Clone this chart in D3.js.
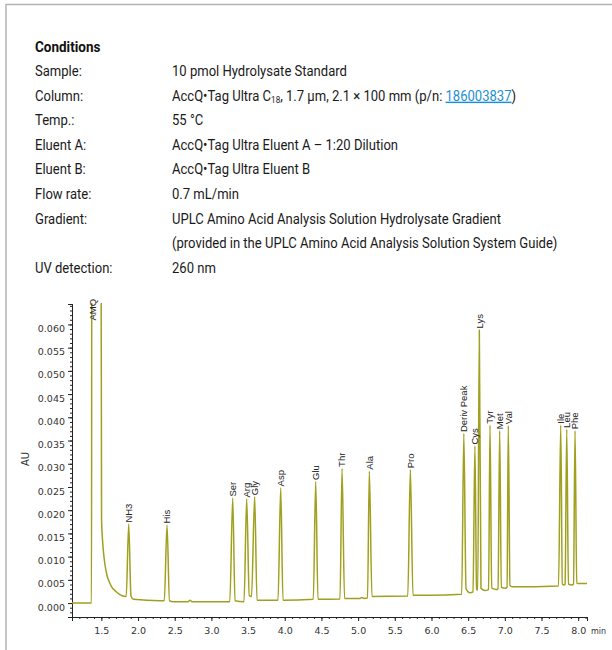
<!DOCTYPE html>
<html>
<head>
<meta charset="utf-8">
<script src="https://cdn.jsdelivr.net/npm/d3@7"></script>
<style>
  body { margin: 0; background: #fff; }
</style>
</head>
<body>
<div id="chart"></div>
<script>
// ---- data ----
// chromatogram trace: retention time (min) and absorbance (AU)
const traceTime = [1.100, 1.366, 1.370, 1.495, 1.503, 1.516, 1.529, 1.550, 1.577, 1.604, 1.645, 1.700, 1.754, 1.829,
  1.839, 1.873, 1.904, 1.938, 2.300, 2.358, 2.395, 2.429, 2.481, 2.681, 2.709, 2.736, 3.233,
  3.251, 3.291, 3.322, 3.445, 3.481, 3.516, 3.547, 3.590, 3.622, 3.908, 3.945, 3.976,
  4.389, 4.422, 4.453, 4.753, 4.781, 4.815, 5.026, 5.053, 5.080, 5.128, 5.153, 5.189,
  5.677, 5.712, 5.748, 5.980, 6.412, 6.441, 6.471, 6.525, 6.566, 6.592, 6.615, 6.631, 6.652, 6.675,
  6.730, 6.778, 6.798, 6.821, 6.887, 6.907, 6.930, 6.952, 7.009, 7.030, 7.047, 7.070, 7.098,
  7.732, 7.762, 7.784, 7.807, 7.821, 7.844, 7.867, 7.916, 7.936, 7.957, 7.980, 8.011, 8.120];
const traceAU = [0.0000, 0.0000, 0.0900, 0.0900, 0.0179, 0.0136, 0.0110, 0.0082, 0.0060, 0.0047, 0.0034, 0.0025, 0.0018, 0.0014,
  0.0014, 0.0170, 0.0015, 0.0008, 0.0005, 0.0005, 0.0168, 0.0005, 0.0003, 0.0003, 0.0006, 0.0003, 0.0003,
  0.0003, 0.0226, 0.0005, 0.0003, 0.0224, 0.0016, 0.0014, 0.0229, 0.0006, 0.0006, 0.0248, 0.0006,
  0.0008, 0.0262, 0.0008, 0.0009, 0.0290, 0.0010, 0.0010, 0.0012, 0.0010, 0.0011, 0.0284, 0.0014,
  0.0015, 0.0287, 0.0017, 0.0017, 0.0019, 0.0365, 0.0031, 0.0022, 0.0024, 0.0338, 0.0030, 0.0028, 0.0588, 0.0032,
  0.0027, 0.0029, 0.0383, 0.0032, 0.0029, 0.0031, 0.0371, 0.0034, 0.0032, 0.0034, 0.0382, 0.0038, 0.0035,
  0.0037, 0.0383, 0.0041, 0.0039, 0.0041, 0.0374, 0.0041, 0.0039, 0.0041, 0.0371, 0.0043, 0.0042, 0.0042];

// peak labels: name, time and AU where the label starts
const peakNames = ["AMQ", "NH3", "His", "Ser", "Arg", "Gly", "Asp", "Glu", "Thr", "Ala", "Pro",
  "Deriv Peak", "Cys", "Lys", "Tyr", "Met", "Val", "Ile", "Leu", "Phe"];
const peakTime = [1.380, 1.873, 2.395, 3.291, 3.481, 3.590, 3.945, 4.422, 4.781, 5.153, 5.712,
  6.441, 6.592, 6.652, 6.798, 6.930, 7.047, 7.762, 7.844, 7.957];
const peakAU = [0.0605, 0.0170, 0.0168, 0.0226, 0.0224, 0.0229, 0.0248, 0.0262, 0.0290, 0.0284, 0.0287,
  0.0365, 0.0338, 0.0588, 0.0383, 0.0371, 0.0382, 0.0383, 0.0374, 0.0371];

const xTicks = [1.5, 2.0, 2.5, 3.0, 3.5, 4.0, 4.5, 5.0, 5.5, 6.0, 6.5, 7.0, 7.5, 8.0];
const yTicks = [0, 0.005, 0.010, 0.015, 0.020, 0.025, 0.030, 0.035, 0.040, 0.045, 0.050, 0.055, 0.060];

const condLabels = ["Sample:", "Column:", "Temp.:", "Eluent A:", "Eluent B:", "Flow rate:", "Gradient:", "", "UV detection:"];
const condValues = ["10 pmol Hydrolysate Standard", null, "55 °C", "AccQ•Tag Ultra Eluent A – 1:20 Dilution",
  "AccQ•Tag Ultra Eluent B", "0.7 mL/min", "UPLC Amino Acid Analysis Solution Hydrolysate Gradient",
  "(provided in the UPLC Amino Acid Analysis Solution System Guide)", "260 nm"];

// ---- page ----
const W = 612, H = 650;
const svg = d3.select("#chart").append("svg")
  .attr("width", W).attr("height", H)
  .style("display", "block");

// frame
svg.append("path")
  .attr("d", `M6,${H} V4.5 H${W}`)
  .attr("fill", "none").attr("stroke", "#b4b4b4").attr("stroke-width", 1.5);

// conditions block
const condFont = "Roboto, 'Liberation Sans', sans-serif";
const sx = 0.9; // squeeze to a condensed look
const rowY = d3.range(condLabels.length).map(i => 76 + i * 24.6);

svg.append("text")
  .attr("transform", `translate(35,52) scale(${sx},1)`)
  .attr("font-family", condFont).attr("font-weight", "bold").attr("font-size", 15)
  .attr("fill", "#111").text("Conditions");

condLabels.forEach((lab, i) => {
  svg.append("text")
    .attr("transform", `translate(35,${rowY[i]}) scale(${sx},1)`)
    .attr("font-family", condFont).attr("font-size", 14.5).attr("fill", "#1a1a1a")
    .text(lab);
  const t = svg.append("text")
    .attr("transform", `translate(172,${rowY[i]}) scale(${sx},1)`)
    .attr("font-family", condFont).attr("font-size", 14.5).attr("fill", "#1a1a1a");
  if (condValues[i] !== null) {
    t.text(condValues[i]);
  } else {
    t.append("tspan").text("AccQ•Tag Ultra C");
    t.append("tspan").attr("font-size", 9).attr("dy", 2).text("18");
    t.append("tspan").attr("dy", -2).text(", 1.7 µm, 2.1 × 100 mm (p/n: ");
    t.append("tspan").attr("fill", "#1b8fd6").style("text-decoration", "underline").text("186003837");
    t.append("tspan").text(")");
  }
});

// ---- chromatogram ----
const x = d3.scaleLinear().domain([1.1, 8.12]).range([72, 587]);
const y = d3.scaleLinear().domain([-0.003, 0.0644]).range([617, 304]);

const axFont = "'DejaVu Sans', sans-serif";

svg.append("clipPath").attr("id", "plotclip")
  .append("rect").attr("x", 72).attr("y", 303).attr("width", 520).attr("height", 320);

// y axis
const yMinor = svg.append("g").attr("transform", "translate(72,0)")
  .call(d3.axisLeft(y).tickValues(d3.range(-3, 65).map(d => d / 1000)).tickSize(2).tickFormat(""));
const yMajor = svg.append("g").attr("transform", "translate(72,0)")
  .call(d3.axisLeft(y).tickValues(yTicks).tickSize(4).tickPadding(3).tickFormat(d3.format(".3f")));

// x axis
const xMinor = svg.append("g").attr("transform", "translate(0,617)")
  .call(d3.axisBottom(x).tickValues(d3.range(11, 82).map(d => d / 10)).tickSize(2).tickFormat(""));
const xMajor = svg.append("g").attr("transform", "translate(0,617)")
  .call(d3.axisBottom(x).tickValues(xTicks).tickSize(4).tickPadding(6).tickFormat(d3.format(".1f")));

[yMinor, yMajor, xMinor, xMajor].forEach(g => {
  g.select(".domain").attr("stroke", "#222").attr("stroke-width", 1);
  g.selectAll(".tick line").attr("stroke", "#222");
  g.selectAll("text").attr("font-family", axFont).attr("font-size", 9.5).attr("fill", "#333");
});
yMajor.selectAll("text").attr("dy", "0.75em");

svg.append("text")
  .attr("x", 591).attr("y", 634)
  .attr("font-family", axFont).attr("font-size", 8).attr("fill", "#333")
  .text("min");

svg.append("text")
  .attr("transform", "translate(29,459) rotate(-90)")
  .attr("text-anchor", "middle")
  .attr("font-family", axFont).attr("font-size", 10).attr("fill", "#333")
  .text("AU");

// trace
const line = d3.line()
  .x((d, i) => x(traceTime[i]))
  .y((d, i) => y(traceAU[i]))
  .curve(d3.curveMonotoneX);

svg.append("path")
  .datum(traceAU)
  .attr("clip-path", "url(#plotclip)")
  .attr("d", line)
  .attr("fill", "none")
  .attr("stroke", "#a0a01e")
  .attr("stroke-width", 1.5)
  .attr("stroke-linejoin", "round");

// peak labels
svg.append("g").selectAll("text")
  .data(peakNames)
  .join("text")
    .attr("transform", (d, i) => `translate(${x(peakTime[i])},${y(peakAU[i]) - 1.5}) rotate(-90)`)
    .attr("dy", "0.35em")
    .attr("font-family", "'Liberation Sans', Arial, sans-serif")
    .attr("font-size", 9.5)
    .attr("fill", "#222")
    .text(d => d);
</script>
</body>
</html>
